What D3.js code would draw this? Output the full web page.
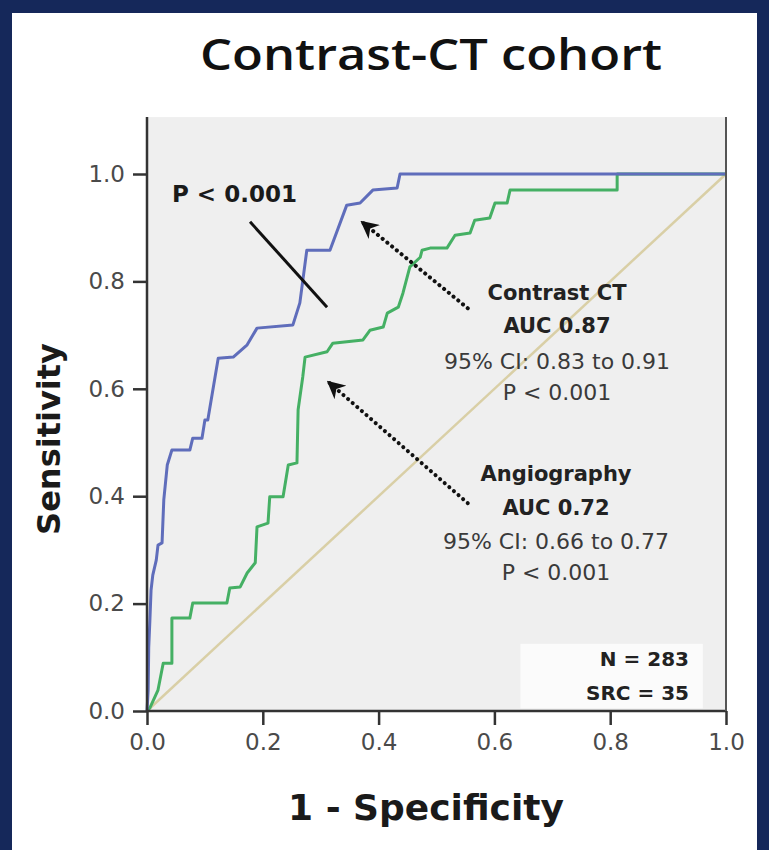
<!DOCTYPE html>
<html>
<head>
<meta charset="utf-8">
<script src="https://cdn.jsdelivr.net/npm/d3@7"></script>
<style>
  html, body { margin: 0; padding: 0; background: #15285a; }
  svg { display: block; }
</style>
</head>
<body>
<svg id="chart" width="769" height="850"></svg>
<script>
// ROC points: [1 - specificity, sensitivity]
const contrastCT = [
  [0, 0], [0.002, 0.039], [0.003, 0.119], [0.005, 0.169], [0.007, 0.225],
  [0.010, 0.253], [0.016, 0.281], [0.019, 0.309], [0.026, 0.313], [0.029, 0.393],
  [0.035, 0.458], [0.043, 0.486], [0.074, 0.486], [0.079, 0.508], [0.095, 0.508],
  [0.100, 0.542], [0.105, 0.542], [0.123, 0.657], [0.149, 0.659], [0.173, 0.682],
  [0.190, 0.713], [0.252, 0.719], [0.264, 0.760], [0.276, 0.858], [0.316, 0.858],
  [0.345, 0.942], [0.368, 0.946], [0.390, 0.970], [0.432, 0.974], [0.437, 1],
  [1, 1]
];
const angiography = [
  [0, 0], [0.005, 0.006], [0.019, 0.039], [0.028, 0.089], [0.043, 0.089],
  [0.043, 0.173], [0.074, 0.173], [0.079, 0.201], [0.138, 0.201], [0.143, 0.229],
  [0.161, 0.231], [0.173, 0.257], [0.187, 0.276], [0.190, 0.343], [0.209, 0.350],
  [0.212, 0.399], [0.235, 0.399], [0.244, 0.458], [0.259, 0.462], [0.261, 0.561],
  [0.269, 0.622], [0.273, 0.659], [0.311, 0.669], [0.321, 0.685], [0.373, 0.691],
  [0.385, 0.709], [0.408, 0.715], [0.415, 0.741], [0.434, 0.752], [0.442, 0.778],
  [0.454, 0.827], [0.472, 0.845], [0.475, 0.858], [0.489, 0.862], [0.518, 0.862],
  [0.532, 0.886], [0.558, 0.890], [0.566, 0.914], [0.592, 0.918], [0.601, 0.946],
  [0.622, 0.946], [0.627, 0.970], [0.812, 0.970], [0.812, 1], [1, 1]
];
const reference = [[0, 0], [1, 1]];
const ticks = [0, 0.2, 0.4, 0.6, 0.8, 1.0];

const titleText = "Contrast-CT cohort";
const xTitle = "1 - Specificity";
const yTitle = "Sensitivity";
const ctLines = ["Contrast CT", "AUC 0.87", "95% CI: 0.83 to 0.91", "P < 0.001"];
const angioLines = ["Angiography", "AUC 0.72", "95% CI: 0.66 to 0.77", "P < 0.001"];
const sampleLines = ["N = 283", "SRC = 35"];

const svg = d3.select("#chart");

// white panel inside the navy frame
svg.append("rect")
    .attr("x", 12).attr("y", 13)
    .attr("width", 745).attr("height", 837)
    .attr("fill", "#ffffff");

const x = d3.scaleLinear().domain([0, 1]).range([147, 726]);
const y = d3.scaleLinear().domain([0, 1]).range([711, 174]);
const yTop = 1.106;

// plot background
svg.append("rect")
    .attr("x", x(0)).attr("y", y(yTop))
    .attr("width", x(1) - x(0)).attr("height", y(0) - y(yTop))
    .attr("fill", "#efefef");

// N box
svg.append("rect")
    .attr("x", x(0.645)).attr("y", y(0.125))
    .attr("width", x(0.96) - x(0.645)).attr("height", y(0.005) - y(0.125))
    .attr("fill", "#fbfbfb");

const line = d3.line().x(d => x(d[0])).y(d => y(d[1]));

svg.append("path")
    .datum(reference)
    .attr("d", line)
    .attr("fill", "none")
    .attr("stroke", "#d9cfa6")
    .attr("stroke-width", 2.5);

svg.append("path")
    .datum(angiography)
    .attr("d", line)
    .attr("fill", "none")
    .attr("stroke", "#45b064")
    .attr("stroke-width", 3)
    .attr("stroke-linejoin", "round");

svg.append("path")
    .datum(contrastCT)
    .attr("d", line)
    .attr("fill", "none")
    .attr("stroke", "#5f6dbb")
    .attr("stroke-width", 3)
    .attr("stroke-linejoin", "round");

// axes
const xAxis = d3.axisBottom(x).tickValues(ticks).tickFormat(d3.format(".1f"))
    .tickSize(14).tickPadding(9).tickSizeOuter(0);
const yAxis = d3.axisLeft(y).tickValues(ticks).tickFormat(d3.format(".1f"))
    .tickSize(14).tickPadding(8).tickSizeOuter(0);

const gx = svg.append("g").attr("transform", `translate(0,${y(0)})`).call(xAxis);
const gy = svg.append("g").attr("transform", `translate(${x(0)},0)`).call(yAxis);

[gx, gy].forEach(g => {
  g.select(".domain").remove();
  g.selectAll(".tick line").attr("stroke", "#333").attr("stroke-width", 2.5);
  g.selectAll(".tick text")
      .attr("fill", "#4a4a4a")
      .style("font-family", "DejaVu Sans")
      .style("font-size", "23px");
});

// frame lines: left, bottom, right
svg.append("line")
    .attr("x1", x(0)).attr("x2", x(0)).attr("y1", y(yTop)).attr("y2", y(0))
    .attr("stroke", "#333").attr("stroke-width", 2.5);
svg.append("line")
    .attr("x1", x(0)).attr("x2", x(1)).attr("y1", y(0)).attr("y2", y(0))
    .attr("stroke", "#333").attr("stroke-width", 2.5);
svg.append("line")
    .attr("x1", x(1)).attr("x2", x(1)).attr("y1", y(yTop)).attr("y2", y(0))
    .attr("stroke", "#555").attr("stroke-width", 2);

// title and axis titles
svg.append("text")
    .attr("x", 431).attr("y", 70)
    .attr("text-anchor", "middle")
    .attr("textLength", 462).attr("lengthAdjust", "spacingAndGlyphs")
    .style("font-family", "Open Sans")
    .style("font-weight", "600")
    .style("font-size", "43px")
    .attr("fill", "#111")
    .text(titleText);

svg.append("text")
    .attr("x", 426).attr("y", 820)
    .attr("text-anchor", "middle")
    .style("font-family", "DejaVu Sans")
    .style("font-weight", "bold")
    .style("font-size", "36px")
    .attr("fill", "#1a1a1a")
    .text(xTitle);

svg.append("text")
    .attr("transform", "translate(60,439) rotate(-90)")
    .attr("text-anchor", "middle")
    .style("font-family", "DejaVu Sans")
    .style("font-weight", "bold")
    .style("font-size", "32px")
    .attr("fill", "#1a1a1a")
    .text(yTitle);

// arrow marker
svg.append("defs").append("marker")
    .attr("id", "head")
    .attr("viewBox", "0 0 10 10")
    .attr("refX", 9).attr("refY", 5)
    .attr("markerWidth", 4.5).attr("markerHeight", 4.5)
    .attr("markerUnits", "strokeWidth")
    .attr("orient", "auto")
    .append("path")
    .attr("d", "M0,0 L10,5 L0,10 L3,5 Z")
    .attr("fill", "#111");

const arrows = [
  { from: [0.554, 0.750], to: [0.371, 0.911] },
  { from: [0.554, 0.387], to: [0.313, 0.613] }
];
svg.selectAll(".arrow")
    .data(arrows)
    .enter().append("line")
    .attr("class", "arrow")
    .attr("x1", d => x(d.from[0])).attr("y1", d => y(d.from[1]))
    .attr("x2", d => x(d.to[0])).attr("y2", d => y(d.to[1]))
    .attr("stroke", "#111")
    .attr("stroke-width", 4)
    .attr("stroke-dasharray", "0.1,6")
    .attr("stroke-linecap", "round")
    .attr("marker-end", "url(#head)");

// pointer for the comparison P value
const pointer = [[0.178, 0.911], [0.311, 0.752]];
svg.append("path")
    .datum(pointer)
    .attr("d", line)
    .attr("stroke", "#111")
    .attr("stroke-width", 3);

svg.append("text")
    .attr("x", 172).attr("y", 202)
    .style("font-family", "DejaVu Sans")
    .style("font-weight", "bold")
    .style("font-size", "23px")
    .attr("fill", "#1a1a1a")
    .text("P < 0.001");

function block(lines, cx, baselines) {
  svg.append("g").selectAll("text")
      .data(lines)
      .enter().append("text")
      .attr("x", cx)
      .attr("y", (d, i) => baselines[i])
      .attr("text-anchor", "middle")
      .style("font-family", "DejaVu Sans")
      .style("font-weight", (d, i) => i < 2 ? "bold" : "normal")
      .style("font-size", (d, i) => i < 2 ? "21px" : "22px")
      .attr("fill", (d, i) => i < 2 ? "#222" : "#3a3a3a")
      .text(d => d);
}
block(ctLines, 557, [300, 333, 369, 400]);
block(angioLines, 556, [481, 515, 549, 580]);

svg.append("g").selectAll("text")
    .data(sampleLines)
    .enter().append("text")
    .attr("x", 689)
    .attr("y", (d, i) => 666 + i * 34)
    .attr("text-anchor", "end")
    .style("font-family", "DejaVu Sans")
    .style("font-weight", "bold")
    .style("font-size", "20px")
    .attr("fill", "#222")
    .text(d => d);
</script>
</body>
</html>
